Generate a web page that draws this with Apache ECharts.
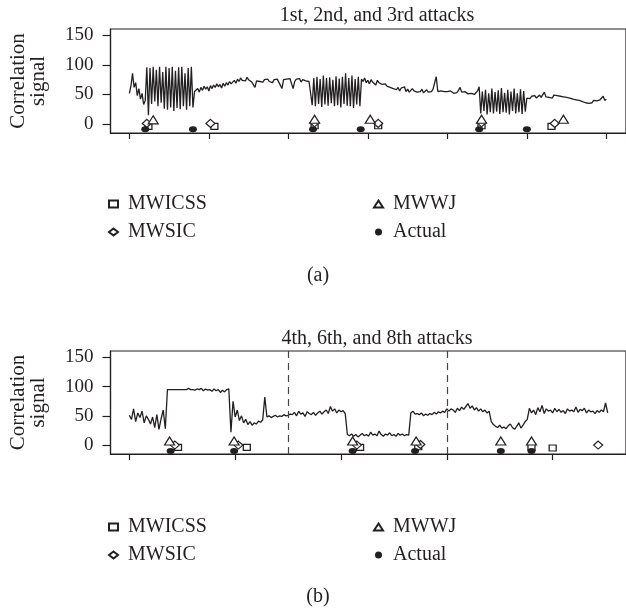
<!DOCTYPE html>
<html>
<head>
<meta charset="utf-8">
<script src="https://cdn.jsdelivr.net/npm/echarts@6/dist/echarts.min.js"></script>
<style>
  html, body { margin: 0; padding: 0; background: #fff; }
  #main { width: 626px; height: 609px; }
</style>
</head>
<body>
<div id="main"></div>
<script>
// correlation signal, panel (a), one value every 2 x-units starting at 0
const signalA = [
  52,64,86,62,70,48,60,42,52,33,40,
  96,15,95,34,97,38,92,30,97,36,88,26,97,24,95,28,97,22,90,27,96,25,97,30,86,24,95,30,97,28,
  55,
  58,60,54,62,57,64,59,63,56,65,
  60,66,62,68,63,67,61,69,64,70,
  66,72,68,71,74,69,76,72,78,74,
  77,73,79,75,76,71,74,62,73,75,
  72,74,71,75,73,76,72,74,70,75,
  73,76,71,74,60,75,72,76,73,77,
  74,60,72,76,73,77,71,75,78,73,76,72,75,
  32,78,30,80,34,76,29,82,33,78,31,79,35,75,30,81,32,77,28,80,34,86,31,78,30,82,27,76,33,80,30,
  76,72,78,70,74,68,75,71,73,66,74,70,72,67,70,
  68,64,66,62,65,60,63,58,62,56,61,58,63,55,59,54,57,60,
  56,58,54,57,55,59,53,56,58,54,57,55,59,56,80,55,52,56,53,55,54,
  55,53,56,54,52,55,53,57,62,54,52,55,53,51,54,52,55,50,53,56,
  63,18,55,22,58,16,52,20,60,18,54,21,57,17,61,20,53,19,58,16,55,22,60,18,52,20,59,17,56,21,
  44,46,43,47,45,48,44,46,49,45,
  47,54,46,48,45,47,44,49,46,48,
  45,47,44,46,43,45,47,44,46,42,
  44,41,43,40,42,38,40,36,39,35,
  38,36,40,37,39,36,41,38,47,40,42
];
// correlation signal, panel (b)
const signalB = [
  51,44,62,40,55,47,58,38,50,44,36,48,30,52,27,45,60,28,
  95,95,95,95,95,95,95,95,95,95,97,95,95,94,96,95,97,93,96,94,95,92,96,93,95,90,94,91,95,96,
  22,75,
  48,60,42,50,38,44,35,40,34,38,36,41,39,43,
  82,
  48,50,47,49,51,48,50,49,52,50,51,53,
  52,56,50,58,53,55,49,57,54,52,56,51,55,58,53,57,60,54,66,58,62,55,60,57,59,54,
  18,
  16,19,15,18,14,17,20,16,18,15,22,17,19,16,24,18,15,19,17,21,16,18,15,20,17,19,16,18,17,
  55,58,53,54,52,55,50,53,51,54,52,56,53,57,55,58,56,62,
  58,62,60,56,63,59,65,61,66,71,63,67,60,64,58,62,57,60,55,58,
  40,
  35,32,30,34,29,31,28,33,36,30,27,32,38,29,34,40,44,
  63,55,60,52,64,57,68,54,62,58,60,55,63,57,61,56,59,54,62,58,60,57,65,56,61,59,63,55,60,57,58,54,59,56,60,57,72,
  55
];
const stepA = 2, stepB = 2;

// detection markers [x, y]
const mwicssA = [[24,-4],[107,-4],[233,-3],[313,-3],[443,-3],[531,-4]];
const mwsicA  = [[22,1],[102,1],[233,2],[313,1],[443,2],[535,1]];
const mwwjA   = [[30,7],[233,8],[303,8],[443,8],[546,8]];
const actualA = [[20,-9],[80,-9],[231,-9],[291,-9],[440,-9],[500,-9]];

const mwicssB = [[46,-4],[111,-4],[218,-4],[273,-3],[380,-4],[400,-5]];
const mwsicB  = [[43,0],[103,0],[215,0],[275,1],[443,0]];
const mwwjB   = [[38,7],[99,7],[211,7],[271,7],[351,7],[380,7]];
const actualB = [[39,-10],[99,-10],[211,-10],[270,-10],[351,-10],[380,-10]];

const splitsB = [150, 300];
const ticksA = [0,100,200,300,400,500,600];
const ticksB = [0,100,200,300,400];
const yTicks = [0,50,100,150];

const titles = ['1st, 2nd, and 3rd attacks', '4th, 6th, and 8th attacks'];

const serif = '"Liberation Serif", "DejaVu Serif", serif';
const ink = '#231f20';

function toPairs(vals, step) {
  return vals.map(function (v, i) { return [i * step, v]; });
}

function xAx(gi, min, max, ticks) {
  return {
    type: 'value', gridIndex: gi, min: min, max: max,
    axisLine: { show: true, onZero: false, lineStyle: { color: ink, width: 1.2 } },
    axisTick: { show: true, inside: false, length: 6, customValues: ticks, lineStyle: { color: ink, width: 1.2 } },
    axisLabel: { show: false },
    splitLine: { show: false }
  };
}
function yAx(gi) {
  return {
    type: 'value', gridIndex: gi, min: -15.3, max: 161,
    name: 'Correlation\nsignal', nameLocation: 'middle', nameRotate: 90, nameGap: 62,
    nameTextStyle: { fontFamily: serif, fontSize: 21, color: ink, lineHeight: 20 },
    axisLine: { show: true, onZero: false, lineStyle: { color: ink, width: 1.2 } },
    axisTick: { show: true, inside: false, length: 8, customValues: yTicks, lineStyle: { color: ink, width: 1.2 } },
    axisLabel: { customValues: yTicks, margin: 17, fontFamily: serif, fontSize: 19, color: ink },
    splitLine: { show: false }
  };
}

const hollow = { color: '#fff', borderColor: ink, borderWidth: 1.2, opacity: 1 };
function markers(gi, sq, di, tr, dot) {
  return [
    { name: 'MWICSS', type: 'scatter', xAxisIndex: gi, yAxisIndex: gi, data: sq, symbol: 'rect', symbolSize: [7, 6], itemStyle: hollow, z: 4 },
    { name: 'MWSIC', type: 'scatter', xAxisIndex: gi, yAxisIndex: gi, data: di, symbol: 'diamond', symbolSize: [9, 8], itemStyle: hollow, z: 4 },
    { name: 'MWWJ', type: 'scatter', xAxisIndex: gi, yAxisIndex: gi, data: tr, symbol: 'triangle', symbolSize: [10, 8], itemStyle: hollow, z: 4 },
    { name: 'Actual', type: 'scatter', xAxisIndex: gi, yAxisIndex: gi, data: dot, symbol: 'circle', symbolSize: [8, 6], itemStyle: { color: ink, opacity: 1 }, z: 5 }
  ];
}

function leg(left, top, names) {
  return {
    left: left, top: top, orient: 'vertical', padding: 0,
    itemWidth: 9, itemHeight: 7, itemGap: 8,
    selectedMode: false,
    textStyle: { fontFamily: serif, fontSize: 20, color: ink, lineHeight: 20, padding: [0, 0, 0, 5] },
    data: names
  };
}

let myChart = echarts.init(document.getElementById('main'), null, { renderer: 'canvas' });
let option = {
  animation: false,
  backgroundColor: '#fff',
  title: [
    { text: titles[0], left: 372, top: 1, textAlign: 'center', textStyle: { fontFamily: serif, fontSize: 20, fontWeight: 'normal', color: ink } },
    { text: titles[1], left: 372, top: 324, textAlign: 'center', textStyle: { fontFamily: serif, fontSize: 20, fontWeight: 'normal', color: ink } },
    { text: '(a)', left: 313, top: 261, textAlign: 'center', textStyle: { fontFamily: serif, fontSize: 20, fontWeight: 'normal', color: ink } },
    { text: '(b)', left: 313, top: 582, textAlign: 'center', textStyle: { fontFamily: serif, fontSize: 20, fontWeight: 'normal', color: ink } }
  ],
  legend: [
    leg(108, 194, ['MWICSS', 'MWSIC']),
    leg(373, 194, ['MWWJ', 'Actual']),
    leg(108, 517, ['MWICSS', 'MWSIC']),
    leg(373, 517, ['MWWJ', 'Actual'])
  ],
  grid: [
    { left: 108, top: 29, right: -2, height: 104, show: true, borderColor: ink, borderWidth: 1.2 },
    { left: 108, top: 351, right: -2, height: 103, show: true, borderColor: ink, borderWidth: 1.2 }
  ],
  xAxis: [xAx(0, -23.7, 624.7, ticksA), xAx(1, -17.8, 469.3, ticksB)],
  yAxis: [yAx(0), yAx(1)],
  series: [
    { name: 'signalA', type: 'line', xAxisIndex: 0, yAxisIndex: 0, data: toPairs(signalA, stepA),
      symbol: 'none', lineStyle: { color: ink, width: 1.3 }, z: 2 },
    { name: 'signalB', type: 'line', xAxisIndex: 1, yAxisIndex: 1, data: toPairs(signalB, stepB),
      symbol: 'none', lineStyle: { color: ink, width: 1.3 }, z: 2,
      markLine: { silent: true, symbol: 'none', label: { show: false },
        lineStyle: { color: '#444', width: 1.2, type: [7, 5] },
        data: splitsB.map(function (x) { return { xAxis: x }; }) } }
  ].concat(markers(0, mwicssA, mwsicA, mwwjA, actualA))
   .concat(markers(1, mwicssB, mwsicB, mwwjB, actualB))
};
myChart.setOption(option);
</script>
</body>
</html>
